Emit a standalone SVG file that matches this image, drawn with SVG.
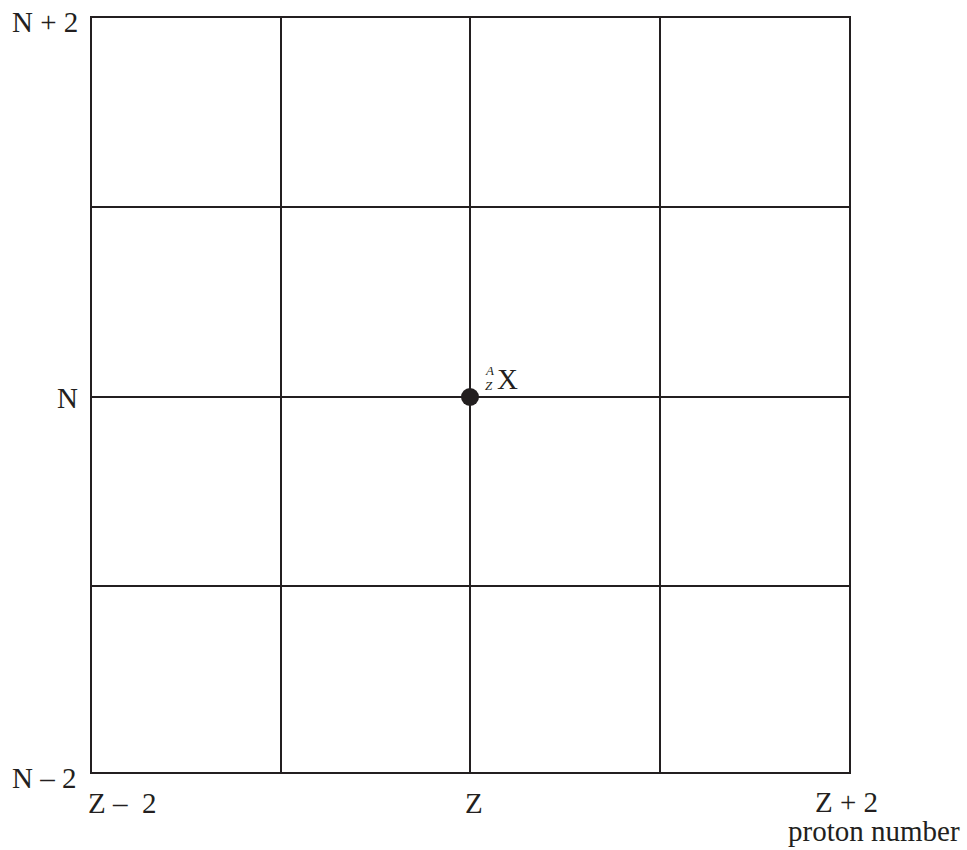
<svg xmlns="http://www.w3.org/2000/svg" width="967" height="850" viewBox="0 0 967 850">
<style>
.g{stroke:#231f20;stroke-width:2;fill:none;stroke-linecap:square}
.t{font-family:"Liberation Serif",serif;font-size:29px;fill:#231f20}
.s{font-family:"Liberation Serif",serif;font-size:13px;font-style:italic;fill:#231f20}
</style>
<rect width="967" height="850" fill="#fff"/>
<g id="connectors">
<rect class="g" x="91" y="17" width="759" height="756"/>
<line class="g" x1="281" y1="17" x2="281" y2="773"/>
<line class="g" x1="470" y1="17" x2="470" y2="773"/>
<line class="g" x1="660" y1="17" x2="660" y2="773"/>
<line class="g" x1="91" y1="207" x2="850" y2="207"/>
<line class="g" x1="91" y1="397" x2="850" y2="397"/>
<line class="g" x1="91" y1="586" x2="850" y2="586"/>
</g>
<g id="nucleus">
<circle cx="470" cy="397" r="9" fill="#231f20"/>
<text class="s" x="486" y="375">A</text>
<text class="s" x="485" y="390">Z</text>
<text class="t" x="497" y="389">X</text>
</g>
<g id="labels">
<text class="t" x="12" y="32">N + 2</text>
<text class="t" x="57" y="408">N</text>
<text class="t" x="12" y="788">N – 2</text>
<text class="t" x="88" y="813" xml:space="preserve">Z –  2</text>
<text class="t" x="465" y="813">Z</text>
<text class="t" x="815" y="812">Z + 2</text>
<text class="t" x="788" y="841">proton number</text>
</g>
</svg>
